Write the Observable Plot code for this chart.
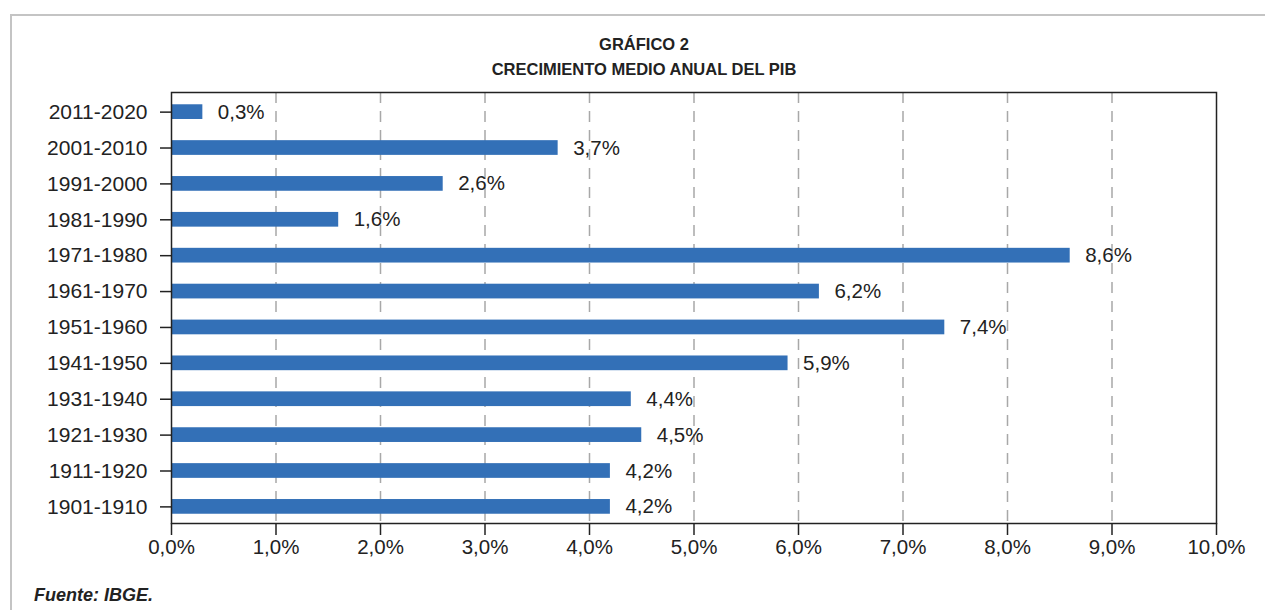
<!DOCTYPE html>
<html>
<head>
<meta charset="utf-8">
<script src="https://cdn.jsdelivr.net/npm/d3@7"></script>
<script src="https://cdn.jsdelivr.net/npm/@observablehq/plot@0.6"></script>
<style>
  html, body { margin: 0; padding: 0; background: #fff; }
  #wrap { position: relative; width: 1265px; height: 610px; overflow: hidden; font-family: "Liberation Sans", Arial, Helvetica, sans-serif; }
  #border { position: absolute; left: 10px; top: 14px; width: 1300px; height: 700px; border: 2px solid #c4c4c4; box-sizing: border-box; }
  .ttl { position: absolute; left: 344px; width: 600px; text-align: center; font-weight: bold; font-size: 16.5px; line-height: 20px; color: #222; }
  #src { position: absolute; left: 34px; top: 585px; font-weight: bold; font-style: italic; font-size: 18px; line-height: 20px; color: #222; }
  #chart { position: absolute; left: 0; top: 0; }
</style>
</head>
<body>
<div id="wrap">
  <div id="border"></div>
  <div class="ttl" style="top:33.5px">GRÁFICO 2</div>
  <div class="ttl" style="top:58.5px">CRECIMIENTO MEDIO ANUAL DEL PIB</div>
  <div id="chart"></div>
  <div id="src">Fuente: IBGE.</div>
</div>
<script>
const periods = ["2011-2020","2001-2010","1991-2000","1981-1990","1971-1980","1961-1970","1951-1960","1941-1950","1931-1940","1921-1930","1911-1920","1901-1910"];
const growth = [0.3, 3.7, 2.6, 1.6, 8.6, 6.2, 7.4, 5.9, 4.4, 4.5, 4.2, 4.2];
const xTicks = [0,1,2,3,4,5,6,7,8,9,10];
const gridTicks = [1,2,3,4,5,6,7,8,9];

const data = periods.map((p, i) => ({period: p, value: growth[i]}));
const fmt = d => d.toFixed(1).replace(".", ",") + "%";

const chart = Plot.plot({
  width: 1265,
  height: 610,
  marginLeft: 171,
  marginRight: 49,
  marginTop: 92,
  marginBottom: 87,
  style: {fontFamily: "'Liberation Sans', Arial, Helvetica, sans-serif", fontSize: "20.5px", color: "#222", background: "transparent"},
  x: {domain: [0, 10]},
  y: {domain: periods, paddingInner: 0.59, paddingOuter: 0.3, align: 0.57, round: false},
  marks: [
    Plot.gridX(gridTicks, {stroke: "#a8a8a8", strokeOpacity: 1, strokeWidth: 1.5, strokeDasharray: "11,8"}),
    Plot.barX(data, {x: "value", y: "period", fill: "#3370b7"}),
    Plot.text(data, {x: "value", y: "period", text: d => fmt(d.value), textAnchor: "start", dx: 15, fontSize: 20.5, fill: "#222"}),
    Plot.frame({stroke: "#222", strokeWidth: 1.5}),
    Plot.axisX(xTicks, {tickSize: 12, tickPadding: 4, tickFormat: fmt, stroke: "#222", strokeWidth: 1.5, fontSize: 20.5, label: null}),
    Plot.axisY({tickSize: 11, tickPadding: 13, stroke: "#222", strokeWidth: 1.5, fontSize: 21, label: null})
  ]
});
document.getElementById("chart").appendChild(chart);
</script>
</body>
</html>
